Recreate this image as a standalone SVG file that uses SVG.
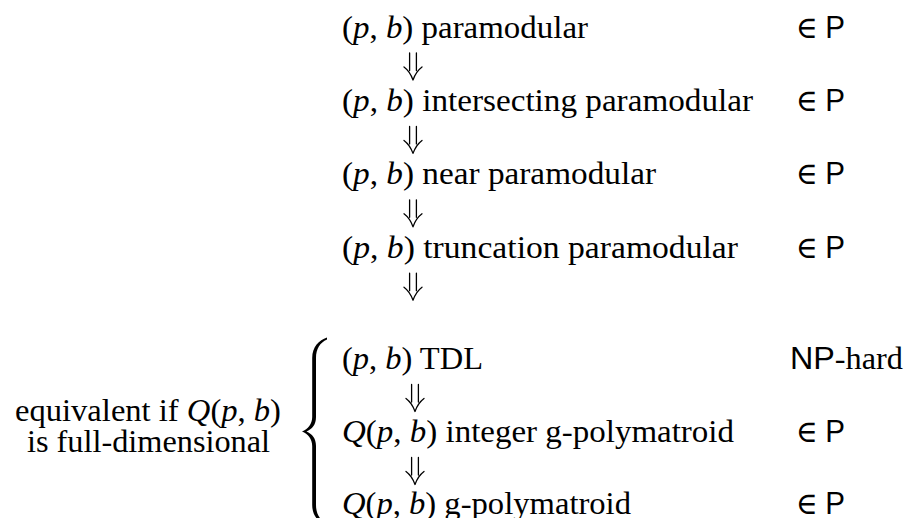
<svg xmlns="http://www.w3.org/2000/svg" width="905" height="518" viewBox="0 0 905 518">
<style>
.t{font-family:"Liberation Serif","DejaVu Serif",serif;font-size:30.6px;fill:#000}
.i{font-style:italic}
.sf{font-family:"Liberation Sans","DejaVu Sans",sans-serif}
.arr{fill:none;stroke:#000;stroke-width:1.3;stroke-linecap:round;stroke-linejoin:round}
.brace{fill:#000;stroke:none}
</style>
<defs>
<path id="dn" d="M-3.4,0 V17.5 M3.4,0 V17.5 M-9,14 Q-3,18.5 0,27 Q3,18.5 9,14"/>
</defs>
<rect width="905" height="518" fill="#fff"/>
<g id="n1">
<text class="t" x="342" y="37.5" textLength="246" lengthAdjust="spacingAndGlyphs">(<tspan class="i">p</tspan>, <tspan class="i">b</tspan>) paramodular</text>
<text class="t" x="796" y="37.5" textLength="49" lengthAdjust="spacingAndGlyphs">∈ <tspan class="sf">P</tspan></text>
</g>
<g id="n2">
<text class="t" x="342" y="110.9" textLength="411" lengthAdjust="spacingAndGlyphs">(<tspan class="i">p</tspan>, <tspan class="i">b</tspan>) intersecting paramodular</text>
<text class="t" x="796" y="110.9" textLength="49" lengthAdjust="spacingAndGlyphs">∈ <tspan class="sf">P</tspan></text>
</g>
<g id="n3">
<text class="t" x="342" y="184.3" textLength="314" lengthAdjust="spacingAndGlyphs">(<tspan class="i">p</tspan>, <tspan class="i">b</tspan>) near paramodular</text>
<text class="t" x="796" y="184.3" textLength="49" lengthAdjust="spacingAndGlyphs">∈ <tspan class="sf">P</tspan></text>
</g>
<g id="n4">
<text class="t" x="342" y="257.7" textLength="396" lengthAdjust="spacingAndGlyphs">(<tspan class="i">p</tspan>, <tspan class="i">b</tspan>) truncation paramodular</text>
<text class="t" x="796" y="257.7" textLength="49" lengthAdjust="spacingAndGlyphs">∈ <tspan class="sf">P</tspan></text>
</g>
<g id="n5">
<text class="t" x="342" y="369" textLength="141" lengthAdjust="spacingAndGlyphs">(<tspan class="i">p</tspan>, <tspan class="i">b</tspan>) TDL</text>
<text class="t" x="790" y="369" textLength="113" lengthAdjust="spacingAndGlyphs"><tspan class="sf">NP</tspan>-hard</text>
</g>
<g id="n6">
<text class="t" x="342" y="442.3" textLength="392" lengthAdjust="spacingAndGlyphs"><tspan class="i">Q</tspan>(<tspan class="i">p</tspan>, <tspan class="i">b</tspan>) integer g-polymatroid</text>
<text class="t" x="796" y="442.3" textLength="49" lengthAdjust="spacingAndGlyphs">∈ <tspan class="sf">P</tspan></text>
</g>
<g id="n7">
<text class="t" x="342" y="514" textLength="289" lengthAdjust="spacingAndGlyphs"><tspan class="i">Q</tspan>(<tspan class="i">p</tspan>, <tspan class="i">b</tspan>) g-polymatroid</text>
<text class="t" x="796" y="514" textLength="49" lengthAdjust="spacingAndGlyphs">∈ <tspan class="sf">P</tspan></text>
</g>
<g id="equiv-note">
<text class="t" x="15" y="421" textLength="266" lengthAdjust="spacingAndGlyphs">equivalent if <tspan class="i">Q</tspan>(<tspan class="i">p</tspan>, <tspan class="i">b</tspan>)</text>
<text class="t" x="27" y="452" textLength="243" lengthAdjust="spacingAndGlyphs">is full-dimensional</text>
<path class="brace" d="M327,337.5 C319,340 312.2,347 312.2,358 L312.2,417 C312.2,424 308,429 302,431.5 C308,434 312.2,439 312.2,446 L312.2,505 C312.2,516 319,523 327,525.5 L327,523.5 C320,520.5 316,514 316,505 L316,446 C316,438 312,434 306.5,431.5 C312,429 316,425 316,417 L316,358 C316,349 320,342.5 327,339.5 Z"/>
</g>
<g id="connectors" class="arr">
<use href="#dn" x="413" y="53"/>
<use href="#dn" x="413" y="126.4"/>
<use href="#dn" x="413" y="199.8"/>
<use href="#dn" x="413" y="273.2"/>
<use href="#dn" x="415" y="384.5"/>
<use href="#dn" x="415" y="457.5"/>
</g>
</svg>
